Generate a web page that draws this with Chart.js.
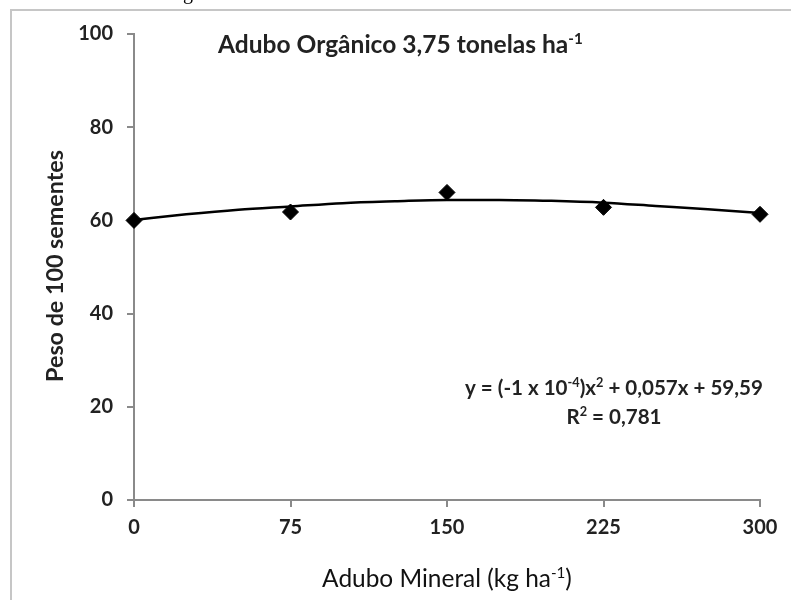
<!DOCTYPE html>
<html>
<head>
<meta charset="utf-8">
<script src="https://cdn.jsdelivr.net/npm/chart.js@4/dist/chart.umd.min.js"></script>
<style>
  html, body { margin: 0; padding: 0; background: #fff; }
  #wrap { width: 791px; height: 600px; position: relative; }
</style>
</head>
<body>
<div id="wrap"><canvas id="chart" width="791" height="600"></canvas></div>
<script>
// ---- data ----
const doseMineral = [0, 75, 150, 225, 300];
const pesoSementes = [60.0, 61.8, 66.0, 62.8, 61.3];

// trend curve
const trendX = [0, 25, 50, 75, 100, 125, 150, 175, 200, 225, 250, 275, 300];
const trendY = [60.1, 61.3, 62.3, 63.0, 63.7, 64.1, 64.4, 64.4, 64.2, 63.8, 63.1, 62.4, 61.6];

const xTicks = [0, 75, 150, 225, 300];
const yTicks = [0, 20, 40, 60, 80, 100];

const FONT = "Lato, 'Open Sans', sans-serif";
const AXIS_GRAY = "#8a8a8a";
const TEXT = "#222";

// draw text with superscript parts, scaled to fit a target width
function richText(ctx, parts, opt) {
  const weight = opt.bold ? "bold " : "";
  const measure = (size) => {
    let w = 0;
    parts.forEach(p => {
      ctx.font = weight + (p.sup ? size * 0.62 : size) + "px " + FONT;
      w += ctx.measureText(p.t).width;
    });
    return w;
  };
  let size = opt.size;
  if (opt.width) size = size * opt.width / measure(size);
  const total = measure(size);
  let x = opt.align === "center" ? opt.x - total / 2 : opt.x;
  ctx.fillStyle = opt.color || TEXT;
  ctx.textBaseline = "alphabetic";
  ctx.textAlign = "left";
  parts.forEach(p => {
    ctx.font = weight + (p.sup ? size * 0.62 : size) + "px " + FONT;
    ctx.fillText(p.t, x, p.sup ? opt.y - size * 0.38 : opt.y);
    x += ctx.measureText(p.t).width;
  });
}

const decorPlugin = {
  id: "decor",
  beforeDraw(chart) {
    const ctx = chart.ctx;
    ctx.save();
    // frame lines (top and left)
    ctx.strokeStyle = "#c6c6c6";
    ctx.lineWidth = 2;
    ctx.beginPath();
    ctx.moveTo(11, 600);
    ctx.lineTo(11, 10);
    ctx.lineTo(791, 10);
    ctx.stroke();
    // fragment of caption above
    ctx.fillStyle = "#000";
    ctx.font = "20px 'Liberation Serif', serif";
    ctx.fillText("g", 183, -1);
    ctx.restore();
  },
  afterDraw(chart) {
    const ctx = chart.ctx;
    ctx.save();
    richText(ctx, [{ t: "Adubo Orgânico 3,75 tonelas ha" }, { t: "-1", sup: true }],
      { x: 218, y: 53, size: 20, width: 365, bold: true });
    richText(ctx, [{ t: "Adubo Mineral (kg ha" }, { t: "-1", sup: true }, { t: ")" }],
      { x: 447, y: 587, size: 18, width: 250, align: "center", color: "#111" });
    richText(ctx, [{ t: "y = (-1 x 10" }, { t: "-4", sup: true }, { t: ")x" }, { t: "2", sup: true }, { t: " + 0,057x + 59,59" }],
      { x: 465, y: 395, size: 16, width: 298, bold: true });
    richText(ctx, [{ t: "R" }, { t: "2", sup: true }, { t: " = 0,781" }],
      { x: 614, y: 424, size: 16, width: 95, align: "center", bold: true });
    // y axis title
    ctx.translate(63, 266);
    ctx.rotate(-Math.PI / 2);
    richText(ctx, [{ t: "Peso de 100 sementes" }], { x: 0, y: 0, size: 18, width: 232, align: "center", bold: true });
    ctx.restore();
  }
};

new Chart(document.getElementById("chart"), {
  type: "line",
  data: {
    datasets: [
      {
        label: "Tendência",
        data: trendX.map((x, i) => ({ x, y: trendY[i] })),
        borderColor: "#000",
        borderWidth: 2.5,
        pointRadius: 0,
        tension: 0.4,
        cubicInterpolationMode: "monotone",
        fill: false,
        clip: false
      },
      {
        label: "Peso de 100 sementes",
        data: doseMineral.map((x, i) => ({ x, y: pesoSementes[i] })),
        showLine: false,
        pointStyle: "rectRot",
        pointRadius: 8,
        pointBackgroundColor: "#000",
        pointBorderColor: "#000",
        clip: false
      }
    ]
  },
  options: {
    responsive: false,
    animation: false,
    events: [],
    layout: { padding: { left: 0, right: 31, top: 34, bottom: 0 } },
    plugins: { legend: { display: false }, tooltip: { enabled: false } },
    scales: {
      x: {
        type: "linear",
        min: 0, max: 300,
        afterBuildTicks: s => { s.ticks = xTicks.map(v => ({ value: v })); },
        afterFit: s => { s.height = 100; },
        border: { color: AXIS_GRAY, width: 2 },
        grid: { drawOnChartArea: false, drawTicks: true, tickLength: 7, tickColor: AXIS_GRAY, lineWidth: 2 },
        ticks: { color: TEXT, padding: 9, font: { family: FONT, size: 20, weight: "bold" } }
      },
      y: {
        min: 0, max: 100,
        afterBuildTicks: s => { s.ticks = yTicks.map(v => ({ value: v })); },
        afterFit: s => { s.width = 134; },
        border: { color: AXIS_GRAY, width: 2 },
        grid: { drawOnChartArea: false, drawTicks: true, tickLength: 7, tickColor: AXIS_GRAY, lineWidth: 2 },
        ticks: { color: TEXT, padding: 14, font: { family: FONT, size: 20, weight: "bold" } }
      }
    }
  },
  plugins: [decorPlugin]
});
</script>
</body>
</html>
